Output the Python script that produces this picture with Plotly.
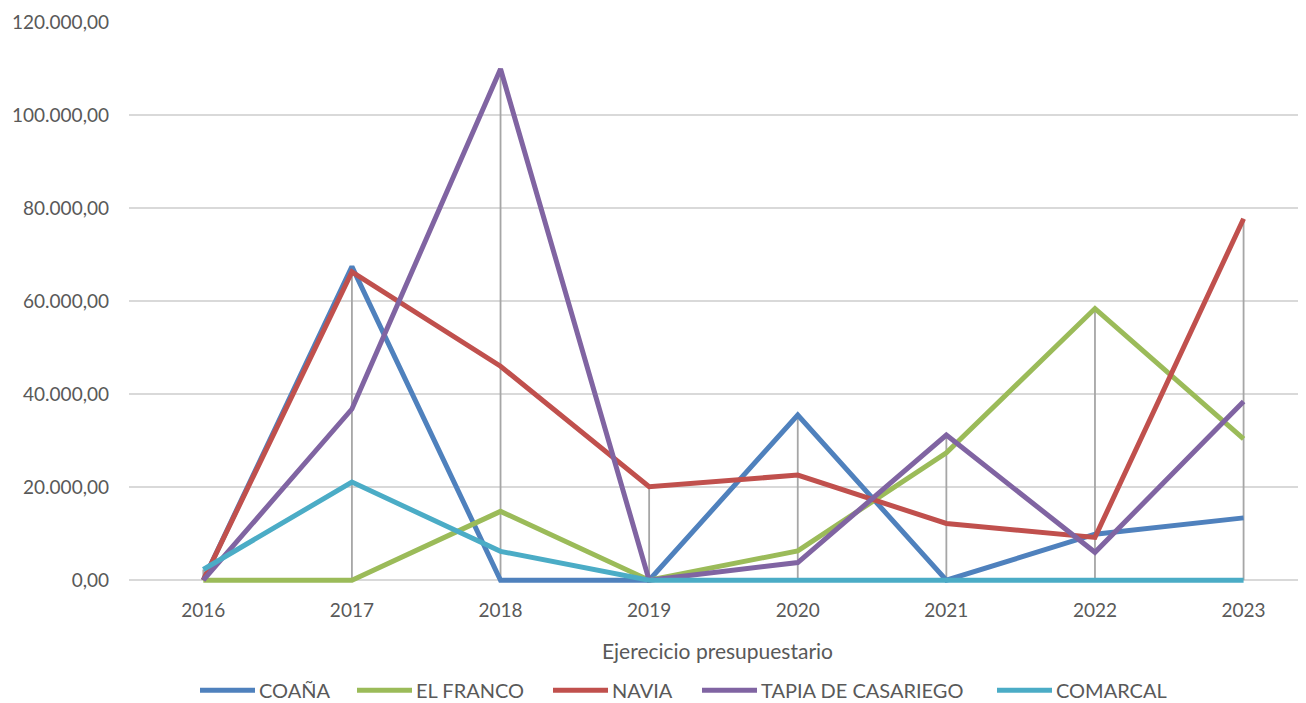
import plotly.graph_objects as go

años = ["2016", "2017", "2018", "2019", "2020", "2021", "2022", "2023"]

coana = [0, 67400, 0, 0, 35500, 0, 9900, 13400]
el_franco = [0, 0, 14800, 0, 6300, 27400, 58400, 30400]
navia = [0, 66300, 46000, 20100, 22600, 12200, 9200, 77700]
tapia = [0, 36800, 109900, 0, 3800, 31200, 6000, 38400]
comarcal = [2300, 21100, 6200, 0, 0, 0, 0, 0]

series = [
    ("COAÑA", coana, "#4F81BD"),
    ("EL FRANCO", el_franco, "#9BBB59"),
    ("NAVIA", navia, "#C0504D"),
    ("TAPIA DE CASARIEGO", tapia, "#8064A2"),
    ("COMARCAL", comarcal, "#4BACC6"),
]

fig = go.Figure()

# lineas de caida (del maximo de cada año hasta el eje)
maximos = [max(v) for v in zip(coana, el_franco, navia, tapia, comarcal)]
xs, ys = [], []
for a, m in zip(años, maximos):
    xs += [a, a, None]
    ys += [0, m, None]
fig.add_trace(go.Scatter(x=xs, y=ys, mode="lines", line=dict(color="#a6a6a6", width=1.8),
                         showlegend=False, hoverinfo="skip"))

for nombre, valores, color in series:
    fig.add_trace(go.Scatter(x=años, y=valores, name=nombre, mode="lines",
                             line=dict(color=color, width=5), showlegend=False))

# leyenda al estilo excel (linea larga + texto)
L, T, W, H = 121, 14, 1306, 703
pw = W - L - 8
ph = 560.8
def px(x):
    return (x - L) / pw
def py(y):
    return (T + ph - y) / ph
inicio = [192, 349, 545, 694, 989]
ley_y = 682
for (nombre, valores, color), x0 in zip(series, inicio):
    fig.add_shape(type="line", xref="paper", yref="paper", x0=px(x0), x1=px(x0 + 55),
                  y0=py(ley_y), y1=py(ley_y), line=dict(color=color, width=5))
    fig.add_annotation(xref="paper", yref="paper", x=px(x0 + 57), y=py(ley_y), text=nombre,
                       showarrow=False, xanchor="left", yanchor="middle",
                       font=dict(size=20, color="#595959"))

fig.update_layout(
    width=W, height=H,
    margin=dict(t=T, l=L, b=128, r=8),
    plot_bgcolor="white", paper_bgcolor="white",
    separators=",.",
    font=dict(family="Lato", size=19, color="#595959"),
    showlegend=False,
)
fig.update_yaxes(range=[-600, 120000], tickvals=[0, 20000, 40000, 60000, 80000, 100000, 120000],
                 tickformat=",.2f", gridcolor="#d9d9d9",
                 gridwidth=1.5, zeroline=False, showline=False, ticklabelstandoff=19, automargin=False)
fig.update_xaxes(type="category", range=[-0.5, 7.42], showgrid=False, showline=False,
                 ticks="", ticklabelstandoff=14, automargin=False,
                 title=dict(text="Ejerecicio presupuestario", font=dict(size=21, color="#595959"),
                            standoff=24))

fig.write_html("out.html")
